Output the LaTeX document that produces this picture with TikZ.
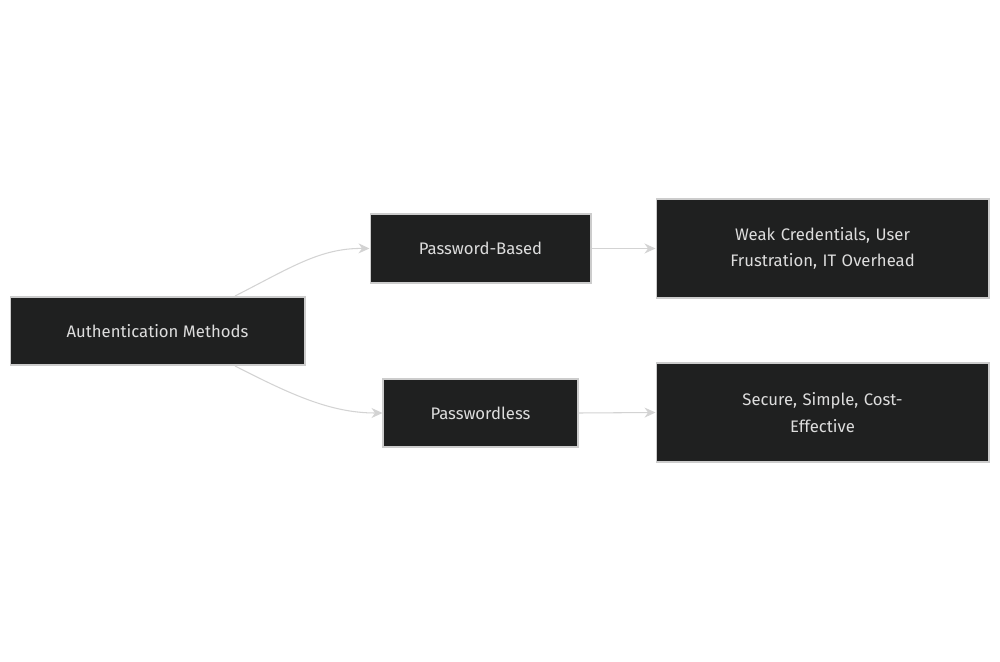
\documentclass[tikz,border=0pt]{standalone}
\usepackage{fontspec}
\setmainfont{Fira Sans}
\usetikzlibrary{arrows.meta}
\definecolor{boxfill}{HTML}{1F2020}
\definecolor{boxline}{HTML}{CCCCCC}
\definecolor{boxtext}{HTML}{DDDDDD}
\definecolor{edgecol}{HTML}{D3D3D3}
\tikzset{
  box/.style={rectangle, draw=boxline, fill=boxfill, text=boxtext, line width=0.6pt,
    inner sep=0pt, align=center, font=\fontsize{9.5}{15}\selectfont},
  link/.style={draw=edgecol, line width=0.6pt, -{Stealth[length=2.2mm,width=2mm]}}
}
\begin{document}
\begin{tikzpicture}[x=0.02cm, y=-0.02cm]
    \useasboundingbox (0,0) rectangle (1000,662);

    \node[box, minimum width=5.9cm, minimum height=1.36cm] (auth) at (157.5,331) {Authentication Methods};
    \node[box, minimum width=4.42cm, minimum height=1.38cm] (pwd) at (480.5,248.5) {Password-Based};
    \node[box, minimum width=3.9cm, minimum height=1.36cm] (nopwd) at (480.5,413) {Passwordless};
    \node[box, minimum width=6.66cm, minimum height=1.98cm, text width=5cm] (weak) at (822.5,248.5) {Weak Credentials, User Frustration, IT Overhead};
    \node[box, minimum width=6.66cm, minimum height=1.98cm, text width=5cm] (secure) at (822.5,412.5) {Secure, Simple, Cost-\\Effective};

    \coordinate (a1) at (235,296);
    \coordinate (a2) at (235,366);
    \draw[link] (a1) .. controls (290,268) and (320,248) .. (pwd.west);
    \draw[link] (a2) .. controls (290,394) and (330,413) .. (nopwd.west);
    \draw[link] (pwd.east) -- (weak.west);
    \draw[link] (nopwd.east) -- (secure.west);
\end{tikzpicture}
\end{document}
